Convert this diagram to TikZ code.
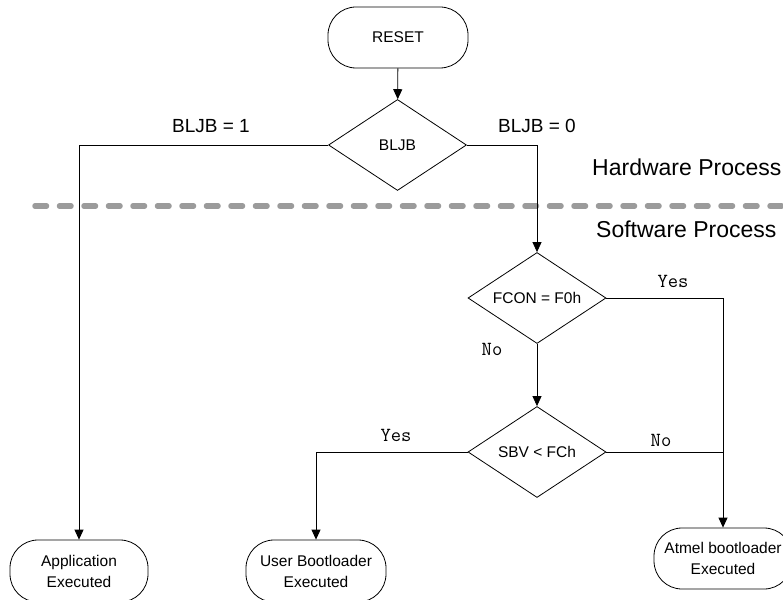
\documentclass[tikz,border=0pt]{standalone}
\usepackage{fontspec}
\setmainfont{Liberation Sans}
\usetikzlibrary{shapes.geometric,arrows.meta}
\definecolor{sepgray}{RGB}{155,155,155}
\begin{document}
\begin{tikzpicture}[x=1pt,y=-1pt,
 term/.style={draw, rounded corners=28pt, minimum width=140pt, minimum height=61pt, inner sep=0pt, align=center, font=\fontsize{15.5}{21}\selectfont, line width=0.8pt},
 decision/.style={draw, diamond, aspect=1.53, minimum width=138pt, minimum height=91pt, inner sep=0pt, font=\fontsize{15.5}{18}\selectfont, line width=0.8pt},
 flow/.style={line width=0.8pt, -{Triangle[length=10pt,width=9pt]}},
 plain/.style={line width=0.8pt},
 lbl/.style={font=\fontsize{19}{22}\selectfont, inner sep=0pt},
 yn/.style={font=\ttfamily\fontsize{20}{22}\selectfont, inner sep=0pt},
 sect/.style={font=\fontsize{23}{26}\selectfont, inner sep=0pt},
 sep/.style={draw=sepgray, line width=5.5pt, line cap=round, dash pattern=on 11.5pt off 13pt}]
\useasboundingbox (0,0) rectangle (783,599);
\fill[white] (0,0) rectangle (783,599);
% separator
\coordinate (dl) at (35,206);
\coordinate (dr) at (800,206);
\draw[sep] (dl) -- (dr);
% nodes
\node[term] (reset) at (398,37.5) {RESET};
\node[decision] (bljb) at (397.5,145) {BLJB};
\node[decision] (fcon) at (537,298) {FCON = F0h};
\node[decision] (sbv) at (537,452) {SBV < FCh};
\node[term, minimum width=138pt, minimum height=62pt] (app) at (79,571) {Application\\Executed};
\node[term, minimum height=62pt] (user) at (316,571) {User Bootloader\\Executed};
\node[term, minimum width=138pt] (atmel) at (723,558.5) {Atmel bootloader\\Executed};
% connectors
\draw[flow] (reset) -- (bljb);
\draw[flow] (bljb.west) -| (app.north);
\draw[flow] (bljb.east) -| (fcon.north);
\draw[flow] (fcon.south) -- (sbv.north);
\draw[flow] (sbv.west) -| (user.north);
\draw[flow] (fcon.east) -| (atmel.north);
\draw[plain] (sbv.east) -- (sbv.east -| atmel.north);
% labels
\node[lbl] (l1) at (211,126) {BLJB = 1};
\node[lbl] (l0) at (537,126) {BLJB = 0};
\node[sect, anchor=base west] (hw) at (592,175) {Hardware Process};
\node[sect, anchor=base west] (sw) at (596,237) {Software Process};
\node[yn] (y1) at (673,281) {Yes};
\node[yn] (n1) at (492,349) {No};
\node[yn] (y2) at (396,435) {Yes};
\node[yn] (n2) at (661,440) {No};
\end{tikzpicture}
\end{document}
